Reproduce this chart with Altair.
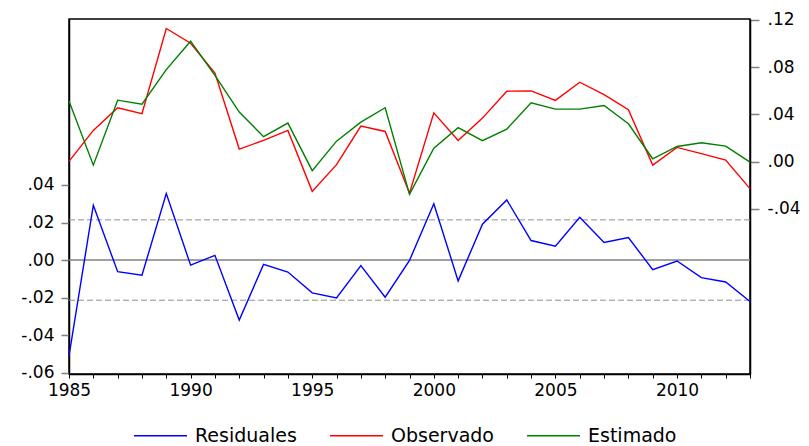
import altair as alt
import pandas as pd

years = list(range(1985, 2014))

residuales = [-0.0510, 0.0292, -0.0062, -0.0081, 0.0354, -0.0027, 0.0025, -0.0320, -0.0023, -0.0064,
              -0.0175, -0.0202, -0.0030, -0.0198, -0.0002, 0.0300, -0.0111, 0.0191, 0.0320, 0.0104,
              0.0074, 0.0228, 0.0094, 0.0120, -0.0051, -0.0005, -0.0094, -0.0117, -0.0221]

observado = [0.0003, 0.0265, 0.0457, 0.0406, 0.1128, 0.1003, 0.0750, 0.0107, 0.0180, 0.0265,
             -0.0251, -0.0025, 0.0301, 0.0256, -0.0266, 0.0414, 0.0180, 0.0369, 0.0597, 0.0600,
             0.0519, 0.0673, 0.0567, 0.0440, -0.0029, 0.0121, 0.0068, 0.0014, -0.0228]

estimado = [0.0513, -0.0029, 0.0521, 0.0487, 0.0780, 0.1020, 0.0730, 0.0420, 0.0212, 0.0327,
            -0.0076, 0.0174, 0.0335, 0.0457, -0.0277, 0.0115, 0.0288, 0.0178, 0.0276, 0.0499,
            0.0445, 0.0445, 0.0476, 0.0321, 0.0025, 0.0129, 0.0161, 0.0132, -0.0003]

series_names = ["Residuales", "Observado", "Estimado"]
series_colors = ["#0000FF", "#FF0000", "#008000"]

left_ticks = [-0.06, -0.04, -0.02, 0.0, 0.02, 0.04]
right_ticks = [-0.04, 0.0, 0.04, 0.08, 0.12]
std_band = [0.0214, -0.0214]

df_res = pd.DataFrame({"year": years, "value": residuales, "serie": "Residuales"})
df_fit = pd.concat([
    pd.DataFrame({"year": years, "value": observado, "serie": "Observado"}),
    pd.DataFrame({"year": years, "value": estimado, "serie": "Estimado"}),
])
df_zero = pd.DataFrame({"y": [0.0]})
df_band = pd.DataFrame({"y": std_band})

FONT = "DejaVu Sans"
left_scale = alt.Scale(domain=[-0.0607, 0.1284], nice=False, zero=False)
right_scale = alt.Scale(domain=[-0.1797, 0.1208], nice=False, zero=False)
label_expr = "(datum.value < 0 ? '-' : '') + replace(format(abs(datum.value), '.2f'), '0.', '.')"

x_enc = alt.X(
    "year:Q",
    scale=alt.Scale(domain=[1985, 2013], nice=False, zero=False),
    axis=alt.Axis(
        values=years,
        labelExpr="datum.value % 5 == 0 ? '' + datum.value : ''",
        title=None, grid=False, tickSize=4, labelPadding=4,
        labelFlush=False, labelOverlap=False,
        domainColor="black", tickColor="black", domainWidth=1.5,
    ),
)

color_enc = alt.Color(
    "serie:N",
    scale=alt.Scale(domain=series_names, range=series_colors),
    legend=alt.Legend(
        orient="none", legendX=64, legendY=389, direction="horizontal",
        title=None, symbolType="stroke", symbolSize=2809, symbolStrokeWidth=1.4,
        labelFont=FONT, labelFontSize=19, labelOffset=7, columnPadding=30,
        padding=0, labelColor="black",
    ),
)

zero_rule = alt.Chart(df_zero).mark_rule(color="#808080", strokeWidth=1.5).encode(
    y=alt.Y("y:Q", scale=left_scale, axis=None)
)
band_rule = alt.Chart(df_band).mark_rule(color="#909090", strokeWidth=1, strokeDash=[6, 3]).encode(
    y=alt.Y("y:Q", scale=left_scale, axis=None)
)

res_line = alt.Chart(df_res).mark_line(strokeWidth=1.4).encode(
    x=x_enc,
    y=alt.Y("value:Q", scale=left_scale,
            axis=alt.Axis(orient="left", values=left_ticks, labelExpr=label_expr,
                          title=None, grid=False, tickColor="#808080", tickSize=8,
                          tickWidth=1.5, labelPadding=7, domainColor="black", domainWidth=1.5)),
    color=color_enc,
)

fit_lines = alt.Chart(df_fit).mark_line(strokeWidth=1.4).encode(
    x=x_enc,
    y=alt.Y("value:Q", scale=right_scale,
            axis=alt.Axis(orient="right", values=right_ticks, labelExpr=label_expr,
                          title=None, grid=False, tickColor="#808080", tickSize=9,
                          tickWidth=1.5, labelPadding=8, domainColor="black", domainWidth=1.5)),
    color=color_enc,
    detail="serie:N",
)

chart = alt.layer(zero_rule, band_rule, res_line, fit_lines).resolve_scale(
    y="independent"
).properties(
    width=681, height=355,
    autosize=alt.AutoSizeParams(type="none"),
    padding={"left": 61, "top": 11, "right": 51, "bottom": 80},
).configure_view(
    stroke="black", strokeWidth=1.5
).configure_axis(
    labelFont=FONT, labelFontSize=17, labelColor="black"
)

chart.save("out.html", embed_options={"renderer": "svg", "actions": False})
